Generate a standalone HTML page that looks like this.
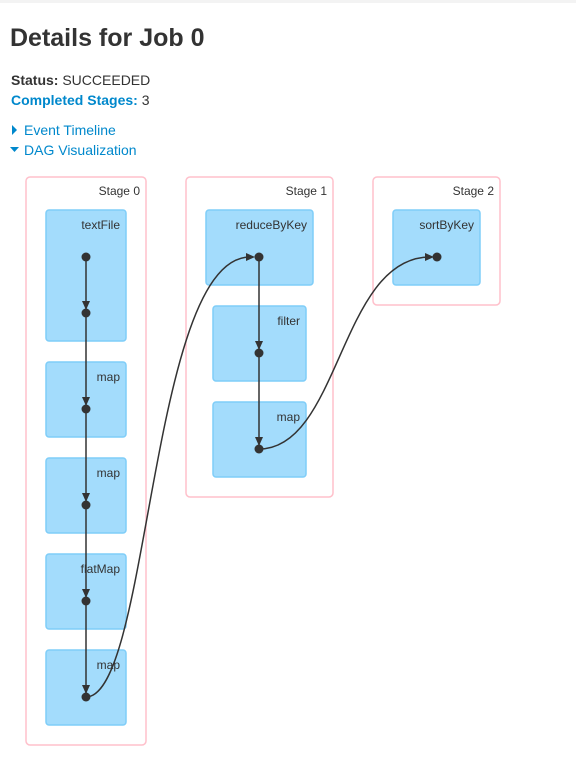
<!DOCTYPE html>
<html><head><style>
body{margin:0;width:576px;height:761px;background:#fff;font-family:"Liberation Sans",sans-serif;position:relative;overflow:hidden}
.t{position:absolute;white-space:nowrap}
</style></head><body>
<div style="position:absolute;left:0;top:0;width:576px;height:3px;background:#f3f3f3"></div>
<div class="t" style="left:10px;top:24px;font-size:25px;font-weight:bold;color:#333">Details for Job 0</div>
<div class="t" style="left:11px;top:72px;font-size:14px;color:#333"><b>Status:</b> SUCCEEDED</div>
<div class="t" style="left:11px;top:92px;font-size:14px;color:#333"><b style="color:#0088cc">Completed Stages:</b> 3</div>
<div class="t" style="left:24px;top:122px;font-size:14px;color:#0088cc">Event Timeline</div>
<div class="t" style="left:24px;top:142px;font-size:14px;color:#0088cc">DAG Visualization</div>
<svg width="576" height="761" style="position:absolute;left:0;top:0" font-family="Liberation Sans" font-size="12" fill="#333">
<polygon points="12,125 17,130 12,135" fill="#0088cc"/>
<polygon points="10,147 19,147 14.5,152" fill="#0088cc"/>
<g fill="#fff" stroke="#ffc0cb" stroke-width="1.5">
<rect x="26" y="177" width="120" height="568" rx="4"/>
<rect x="186" y="177" width="147" height="320" rx="4"/>
<rect x="373" y="177" width="127" height="128" rx="4"/>
</g>
<text x="140" y="195" text-anchor="end">Stage 0</text>
<text x="327" y="195" text-anchor="end">Stage 1</text>
<text x="494" y="195" text-anchor="end">Stage 2</text>
<g fill="#a3dcfc" stroke="#7fcdf8" stroke-width="1.5">
<rect x="46" y="210" width="80" height="131" rx="3"/>
<rect x="46" y="362" width="80" height="75" rx="3"/>
<rect x="46" y="458" width="80" height="75" rx="3"/>
<rect x="46" y="554" width="80" height="75" rx="3"/>
<rect x="46" y="650" width="80" height="75" rx="3"/>
<rect x="206" y="210" width="107" height="75" rx="3"/>
<rect x="213" y="306" width="93" height="75" rx="3"/>
<rect x="213" y="402" width="93" height="75" rx="3"/>
<rect x="393" y="210" width="87" height="75" rx="3"/>
</g>
<text x="120" y="229" text-anchor="end">textFile</text>
<text x="120" y="381" text-anchor="end">map</text>
<text x="120" y="477" text-anchor="end">map</text>
<text x="120" y="573" text-anchor="end">flatMap</text>
<text x="120" y="669" text-anchor="end">map</text>
<text x="307" y="229" text-anchor="end">reduceByKey</text>
<text x="300" y="325" text-anchor="end">filter</text>
<text x="300" y="421" text-anchor="end">map</text>
<text x="474" y="229" text-anchor="end">sortByKey</text>
<g stroke="#333" stroke-width="1.5" fill="none">
<line x1="86" y1="257" x2="86" y2="697"/>
<line x1="259" y1="257" x2="259" y2="449"/>
<path d="M86,697 C150,697 150,257 250,257"/>
<path d="M259,449 C340,449 340,257 430,257"/>
</g>
<g fill="#333">
<polygon points="82,301 90,301 86,310"/><polygon points="82,397 90,397 86,406"/><polygon points="82,493 90,493 86,502"/><polygon points="82,589 90,589 86,598"/><polygon points="82,685 90,685 86,694"/>
<polygon points="255,341 263,341 259,350"/><polygon points="255,437 263,437 259,446"/>
<polygon points="246,253 246,261 255,257"/><polygon points="425,253 425,261 434,257"/>
<circle cx="86" cy="257" r="4.5"/><circle cx="86" cy="313" r="4.5"/><circle cx="86" cy="409" r="4.5"/><circle cx="86" cy="505" r="4.5"/><circle cx="86" cy="601" r="4.5"/><circle cx="86" cy="697" r="4.5"/>
<circle cx="259" cy="257" r="4.5"/><circle cx="259" cy="353" r="4.5"/><circle cx="259" cy="449" r="4.5"/><circle cx="437" cy="257" r="4.5"/>
</g>
</svg>
</body></html>
